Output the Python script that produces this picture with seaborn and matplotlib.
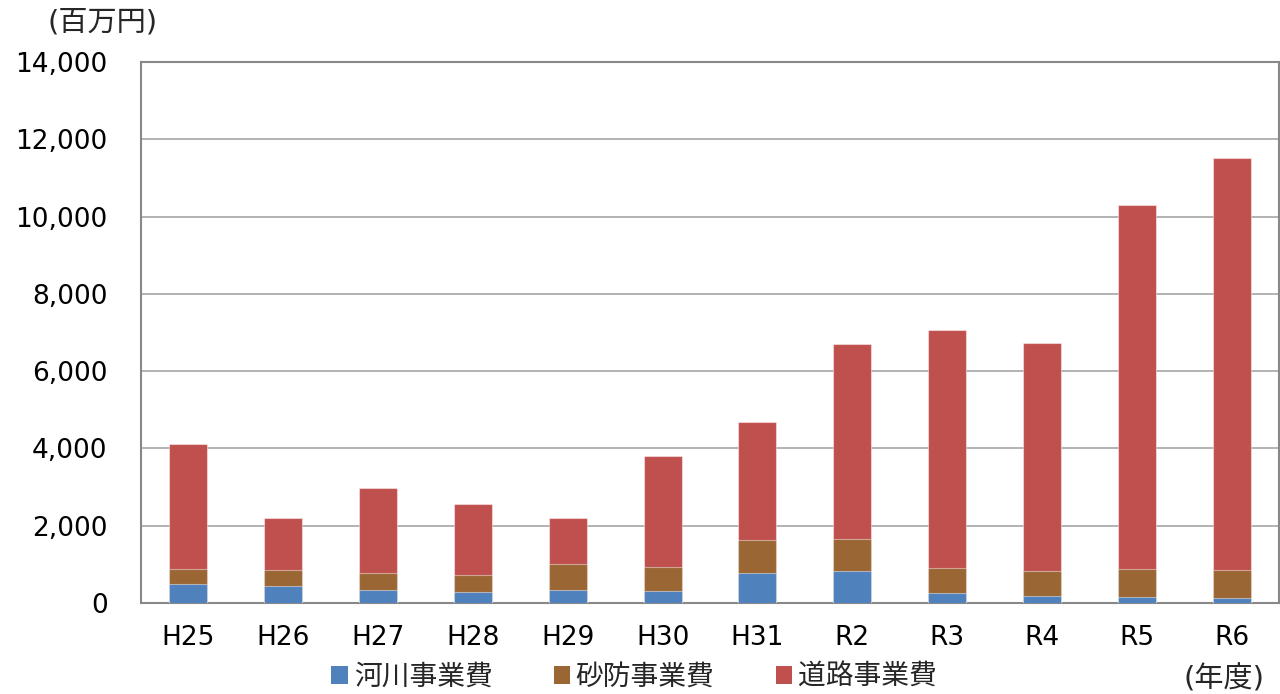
import matplotlib
matplotlib.use("Agg")
import matplotlib.pyplot as plt
import seaborn as sns
import pandas as pd
import numpy as np
from matplotlib.patches import Patch
from matplotlib.ticker import FuncFormatter

years = ["H25", "H26", "H27", "H28", "H29", "H30", "H31", "R2", "R3", "R4", "R5", "R6"]
river = [497, 435, 342, 290, 342, 305, 768, 820, 251, 173, 163, 137]
sabo = [388, 424, 439, 440, 672, 639, 854, 828, 647, 647, 709, 709]
road = [3242, 1335, 2189, 1844, 1180, 2872, 3074, 5058, 6170, 5920, 9438, 10673]
series_names = ["河川事業費", "砂防事業費", "道路事業費"]
colors = ["#4F81BD", "#9A6634", "#C0504D"]

sns.set_theme(style="white")
plt.rcParams['font.family'] = ['DejaVu Sans', 'Noto Sans CJK JP']

df = pd.DataFrame({"year": years, "river": river, "sabo": sabo, "road": road})
df["c1"] = df["river"]
df["c2"] = df["river"] + df["sabo"]
df["c3"] = df["c2"] + df["road"]

fig = plt.figure(figsize=(12.8, 6.94), dpi=100)
ax = fig.add_axes([141/1280, 1 - 603/694, 1138/1280, 541/694])

for col, colr in [("c3", colors[2]), ("c2", colors[1]), ("c1", colors[0])]:
    sns.barplot(data=df, x="year", y=col, color=colr, width=0.4, ax=ax,
                saturation=1, edgecolor=(1, 1, 1, 0.45), linewidth=0.8, zorder=3)

ax.set_ylim(0, 14000)
ax.set_yticks(np.arange(0, 14001, 2000))
ax.yaxis.set_major_formatter(FuncFormatter(lambda v, p: f"{int(v):,}"))
ax.grid(axis="y", color="#A6A6A6", linewidth=1.2, zorder=0)
ax.set_axisbelow(True)
for s in ax.spines.values():
    s.set_color("#888888")
    s.set_linewidth(1.5)
    s.set_visible(True)
ax.set_xlabel("")
ax.set_ylabel("")
ax.tick_params(axis="both", labelsize=19, colors="black", length=0)
ax.tick_params(axis="x", pad=16)
ax.tick_params(axis="y", pad=24)
ax.set_xlim(-0.5, 11.5)

fig.text(103/1280, 1 - 22/694, "(百万円)", fontsize=21, ha="center", va="center")
fig.text(1224/1280, 1 - 679/694, "(年度)", fontsize=21, ha="center", va="center")

handles = [Patch(facecolor=c, edgecolor="none") for c in colors]
fig.legend(handles, series_names, loc="center", bbox_to_anchor=(634/1280, 1 - 677/694),
           ncol=3, frameon=False, fontsize=20, handlelength=0.6, handleheight=0.6,
           handletextpad=0.2, columnspacing=2.2)

fig.savefig("out.png", dpi=100)
